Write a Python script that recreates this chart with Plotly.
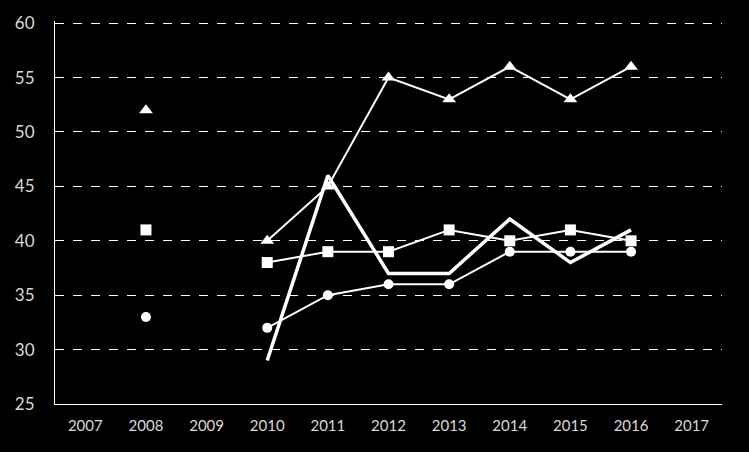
import plotly.graph_objects as go

years = [2007, 2008, 2009, 2010, 2011, 2012, 2013, 2014, 2015, 2016, 2017]

# values, None = no point
triangles = [None, 52, None, 40, 45, 55, 53, 56, 53, 56, None]
squares = [None, 41, None, 38, 39, 39, 41, 40, 41, 40, None]
circles = [None, 33, None, 32, 35, 36, 36, 39, 39, 39, None]
thick = [None, None, None, 29, 46, 37, 37, 42, 38, 41, None]

fig = go.Figure()

fig.add_scatter(x=years, y=thick, mode="lines", name="thick",
                line=dict(color="white", width=3.5))
fig.add_scatter(x=years, y=triangles, mode="lines+markers", name="triangles",
                line=dict(color="white", width=2),
                marker=dict(symbol="triangle-up", size=12, color="white"))
fig.add_scatter(x=years, y=squares, mode="lines+markers", name="squares",
                line=dict(color="white", width=2),
                marker=dict(symbol="square", size=11, color="white"))
fig.add_scatter(x=years, y=circles, mode="lines+markers", name="circles",
                line=dict(color="white", width=2),
                marker=dict(symbol="circle", size=10, color="white"))

fig.update_layout(
  width=749,
  height=452,
  paper_bgcolor="black",
  plot_bgcolor="black",
  showlegend=False,
  margin=dict(l=55, r=27, t=19, b=48),
  font=dict(family="Lato", size=15, color="#d9d9d9"),
)

fig.update_xaxes(
  range=[2006.5, 2017.5],
  tickvals=years,
  ticktext=[str(y) for y in years],
  showgrid=False,
  zeroline=False,
  showline=True,
  linecolor="white",
  linewidth=1,
  ticks="",
  ticklabelstandoff=8,
  tickfont=dict(size=15),
)

# range goes a hair past 60 so the top dashed gridline is kept
fig.update_yaxes(
  range=[25, 60.2],
  tickvals=[25, 30, 35, 40, 45, 50, 55, 60],
  showgrid=True,
  gridcolor="white",
  griddash="dash",
  gridwidth=1,
  zeroline=False,
  showline=True,
  linecolor="white",
  linewidth=1,
  ticks="",
  ticklabelstandoff=16,
  tickfont=dict(size=17),
)

# drop the page margin so the black figure fills the window
fig.write_html(
  "out.html",
  config={"displayModeBar": False},
  post_script="document.body.style.margin='0';document.body.style.background='black';",
)
